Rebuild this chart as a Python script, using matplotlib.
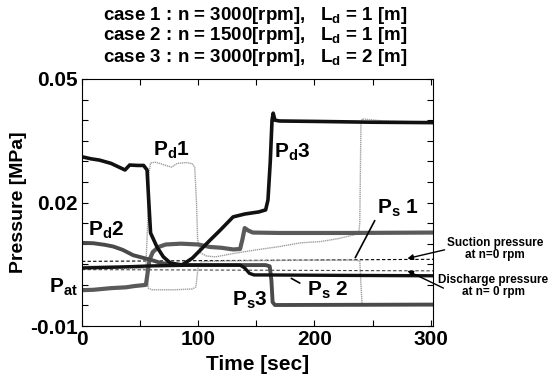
import numpy as np
import matplotlib.pyplot as plt

plt.rcParams['font.family'] = ['Liberation Sans', 'DejaVu Sans']
plt.rcParams['font.weight'] = 'bold'
plt.rcParams['axes.labelweight'] = 'bold'
plt.rcParams['mathtext.fontset'] = 'custom'
plt.rcParams['mathtext.rm'] = 'Liberation Sans:bold'

# case 3, discharge (black, thick)
t_pd3 = [0, 8, 15, 25, 37, 41, 48, 53, 56, 57.5, 59, 64.5, 70, 76, 86, 95, 102, 110,
         119, 130, 140, 147, 152, 158, 160, 162, 163.5, 164.5, 166, 170, 200, 250, 302]
p_pd3 = [0.0311, 0.0306, 0.0303, 0.0295, 0.0279, 0.0291, 0.0290, 0.0290, 0.0279,
         0.0200, 0.0126, 0.0092, 0.0068, 0.0053, 0.0048, 0.0065, 0.0085, 0.0108,
         0.0133, 0.0165, 0.0172, 0.0175, 0.0177, 0.0182, 0.0206, 0.0300, 0.0400,
         0.0417, 0.0400, 0.0398, 0.0397, 0.0395, 0.0394]

# suction line dropping at t=142 (black, thick)
t_ps2 = [0, 30, 60, 100, 136, 140, 144, 148, 160, 220, 302]
p_ps2 = [0.0041, 0.0043, 0.0046, 0.0048, 0.0048, 0.0041, 0.0028, 0.0024, 0.0024,
         0.0023, 0.0022]

# dark gray line starting at 0.010, ends low after t=164
t_ps3 = [0, 10, 20, 27, 35, 44, 52, 60, 68, 78, 100, 140, 158, 161.5, 163, 164,
         166, 170, 302]
p_ps3 = [0.0102, 0.0101, 0.0097, 0.0093, 0.0085, 0.0072, 0.0066, 0.0060, 0.0053,
         0.0049, 0.0048, 0.0048, 0.0048, 0.0045, 0.0010, -0.0042, -0.0049,
         -0.0049, -0.0048]

# dark gray line starting near Pat, steps up twice
t_pd2 = [0, 10, 25, 38, 45, 52, 55, 56.5, 58, 61, 66, 72, 85, 100, 110, 120, 130,
         136, 138, 140, 143, 147, 170, 230, 302]
p_pd2 = [-0.0013, -0.0012, -0.0008, -0.0006, -0.0003, -0.0001, 0.0000, 0.0030,
         0.0060, 0.0080, 0.0092, 0.0098, 0.0100, 0.0098, 0.0092, 0.0090, 0.0086,
         0.0087, 0.0110, 0.0138, 0.0132, 0.0127, 0.0126, 0.0126, 0.0127]

# case 1 (light gray, thin)
t_pd1 = [0, 55, 56.5, 57.5, 59, 63, 68, 72, 77, 82, 90, 95, 97, 98.5, 99.5, 102,
         107, 115, 130, 150, 170, 188, 205, 220, 238, 239, 240, 241, 260, 302]
p_pd1 = [0.0045, 0.0047, 0.0150, 0.0270, 0.0296, 0.0298, 0.0294, 0.0290, 0.0286,
         0.0295, 0.0297, 0.0294, 0.0285, 0.0200, 0.0110, 0.0078, 0.0070, 0.0068,
         0.0076, 0.0085, 0.0093, 0.0102, 0.0105, 0.0112, 0.0124, 0.0150, 0.0390,
         0.0403, 0.0398, 0.0395]

t_ps1 = [0, 55, 56, 57, 60, 80, 95, 98, 99, 100, 103, 120, 200, 234, 239, 240,
         241, 302]
p_ps1 = [0.0040, 0.0040, 0.0020, -0.0008, -0.0012, -0.0012, -0.0010, -0.0005,
         0.0020, 0.0045, 0.0056, 0.0058, 0.0060, 0.0060, 0.0058, 0.0000, -0.0047,
         -0.0047]

# pressures at n = 0 rpm
t_rest = [0, 302]
p_suction0 = [0.0057, 0.0062]
p_discharge0 = [0.0037, 0.0034]

x_ticks = [0, 50, 100, 150, 200, 250, 300]
x_labels = ['0', '', '100', '', '200', '', '300']
y_ticks = np.arange(-0.01, 0.0501, 0.005)
y_labelled = {-0.01: '-0.01', 0.0: r'$\mathregular{P_{at}}$', 0.02: '0.02', 0.05: '0.05'}

title_lines = [r'case 1 : n = 3000[rpm],   $\mathregular{L_d}$ = 1 [m]',
               r'case 2 : n = 1500[rpm],   $\mathregular{L_d}$ = 1 [m]',
               r'case 3 : n = 3000[rpm],   $\mathregular{L_d}$ = 2 [m]']


def main():
    fig = plt.figure(figsize=(5.59, 3.82), dpi=100)
    ax = fig.add_axes([82/559, 56/382, 351/559, 247/382])

    ax.plot(t_rest, p_suction0, color='k', lw=0.8, ls=(0, (3, 2)))
    ax.plot(t_rest, p_discharge0, color='#444444', lw=0.8, ls=(0, (3, 2)))
    ax.plot(t_pd1, p_pd1, color='#a0a0a0', lw=1.0, ls=(0, (1, 0.5)))
    ax.plot(t_ps1, p_ps1, color='#a0a0a0', lw=1.0, ls=(0, (1, 0.5)))
    ax.plot(t_pd2, p_pd2, color='#5a5a5a', lw=3.0, solid_joinstyle='round')
    ax.plot(t_ps3, p_ps3, color='#4a4a4a', lw=2.8, solid_joinstyle='round')
    ax.plot(t_ps2, p_ps2, color='#111111', lw=2.4, solid_joinstyle='round')
    ax.plot(t_pd3, p_pd3, color='#111111', lw=2.6, solid_joinstyle='round')

    fs = 15
    ax.text(77, 0.0327, r'$\mathregular{P_d}$1', fontsize=fs, ha='center', va='center')
    ax.text(21, 0.0133, r'$\mathregular{P_d}$2', fontsize=fs, ha='center', va='center')
    ax.text(165, 0.0323, r'$\mathregular{P_d}$3', fontsize=fs, ha='left', va='center')
    ax.text(272, 0.0187, r'$\mathregular{P_s}$ 1', fontsize=fs, ha='center', va='center')
    ax.text(211, -0.0013, r'$\mathregular{P_s}$ 2', fontsize=fs, ha='center', va='center')
    ax.text(160, -0.0037, r'$\mathregular{P_s}$3', fontsize=fs, ha='right', va='center')

    ax.annotate('', xy=(234, 0.0060), xytext=(253, 0.0162),
                arrowprops=dict(arrowstyle='-', color='k', lw=1.2))
    ax.annotate('', xy=(178, 0.0019), xytext=(189.5, 0.0001),
                arrowprops=dict(arrowstyle='-', color='k', lw=1.2))

    # notes for the n = 0 rpm levels, outside the axes on the right
    fig.text(495/559, 1 - 249/382, 'Suction pressure\nat n=0 rpm', fontsize=8.5,
             ha='center', va='center', linespacing=1.0)
    fig.text(493/559, 1 - 286/382, 'Discharge pressure\nat n= 0 rpm', fontsize=8.5,
             ha='center', va='center', linespacing=1.0)
    ax.annotate('', xy=(280, 0.0064), xytext=(312, 0.0085), annotation_clip=False,
                arrowprops=dict(arrowstyle='-|>', color='k', lw=1.0, mutation_scale=8,
                                shrinkA=0, shrinkB=0))
    ax.annotate('', xy=(280, 0.0034), xytext=(311, -0.0008), annotation_clip=False,
                arrowprops=dict(arrowstyle='-|>', color='k', lw=1.0, mutation_scale=8,
                                shrinkA=0, shrinkB=0))

    ax.set_xlim(0, 302)
    ax.set_ylim(-0.01, 0.05)
    ax.set_xticks(x_ticks)
    ax.set_xticklabels(x_labels)
    ax.set_yticks(y_ticks)
    ax.set_yticklabels([y_labelled.get(round(v, 3), '') for v in y_ticks])
    ax.tick_params(direction='in', top=True, right=True, length=4, width=0.8,
                   labelsize=15, pad=3)
    for s in ax.spines.values():
        s.set_linewidth(0.8)

    ax.set_xlabel('Time [sec]', fontsize=15, labelpad=4)
    ax.set_ylabel('Pressure [MPa]', fontsize=14, labelpad=2)

    for i, line in enumerate(title_lines):
        fig.text(255/559, 1 - (15 + 21*i)/382, line, fontsize=13.5, ha='center', va='center')

    fig.savefig('out.png', dpi=100)


if __name__ == '__main__':
    main()
